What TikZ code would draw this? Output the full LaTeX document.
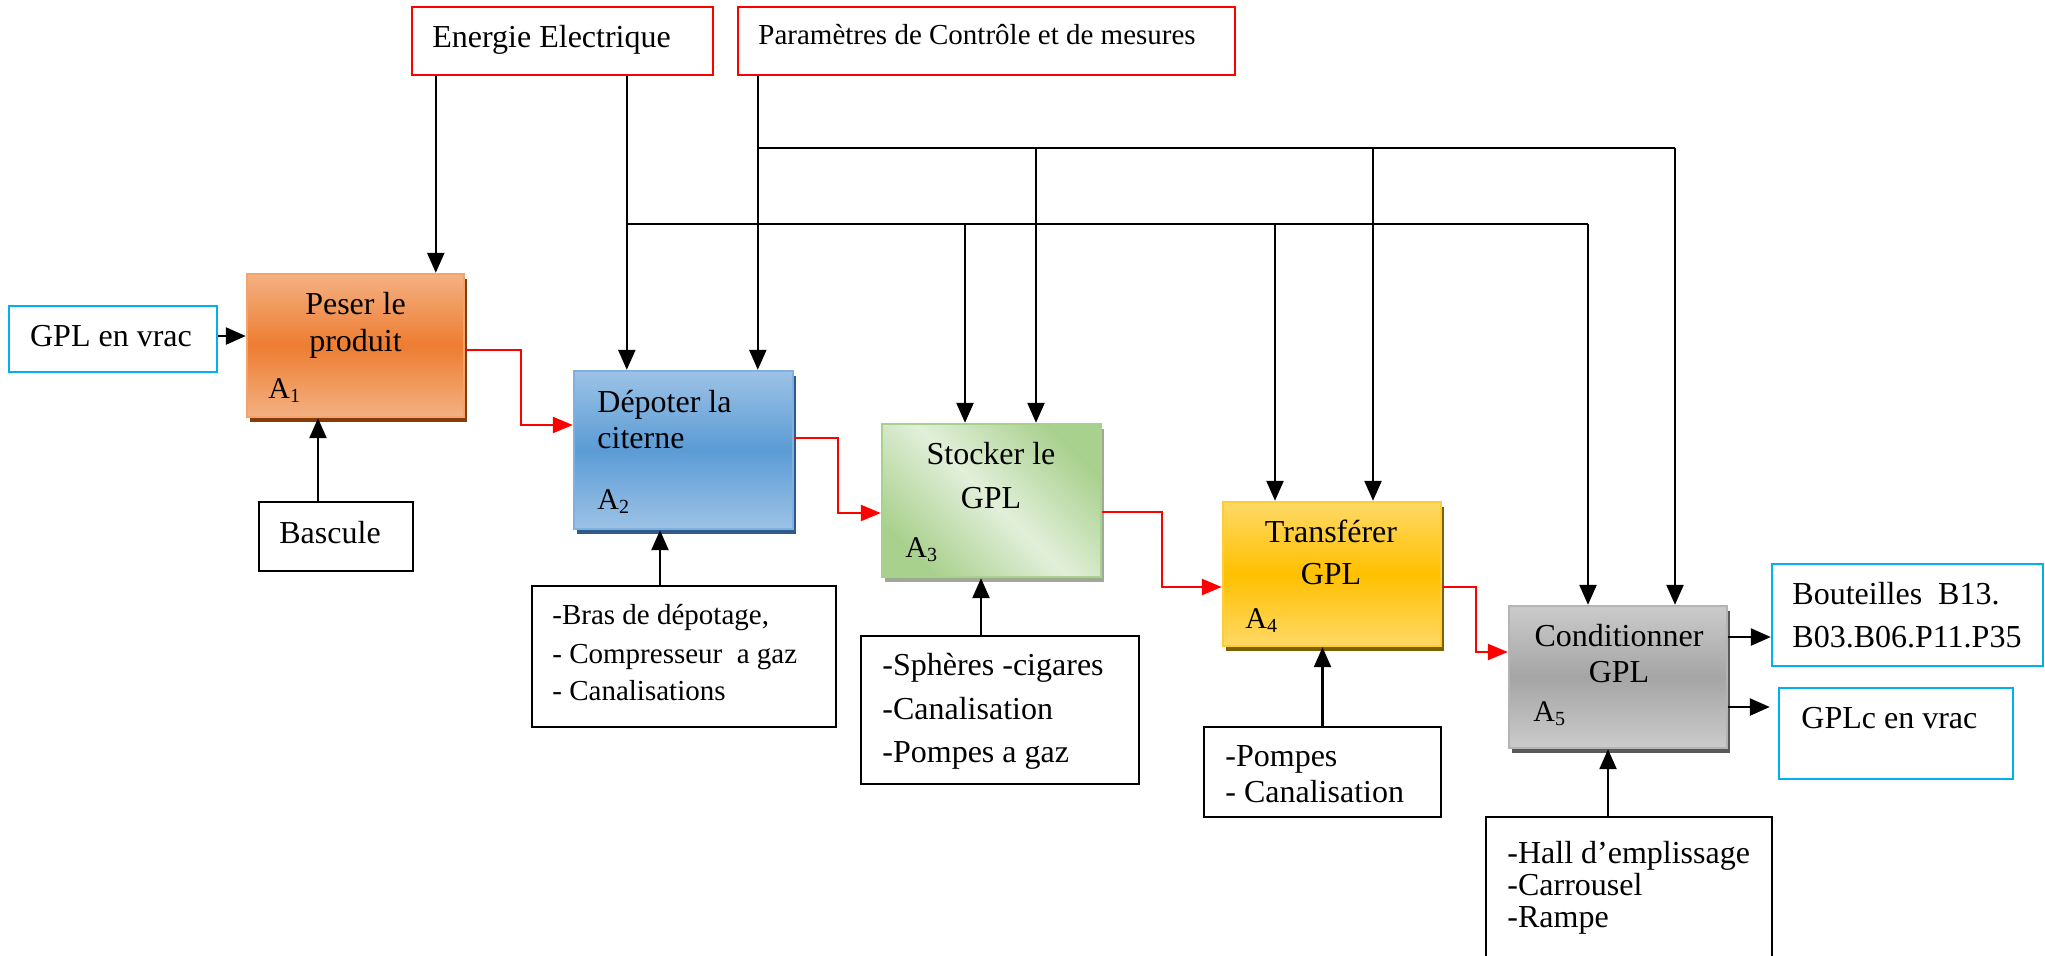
\documentclass[tikz,border=0pt]{standalone}
\usepackage{fontspec}
\setmainfont{Liberation Serif}
\usetikzlibrary{arrows.meta,shadows,calc}
\definecolor{orT}{HTML}{F4B183}
\definecolor{orM}{HTML}{ED7D31}
\definecolor{orL}{HTML}{F4A46A}
\definecolor{orS}{HTML}{843C0C}
\definecolor{blT}{HTML}{9DC3E6}
\definecolor{blM}{HTML}{5B9BD5}
\definecolor{blL}{HTML}{7EB0E0}
\definecolor{blS}{HTML}{2F5B8C}
\definecolor{grD}{HTML}{A9D18E}
\definecolor{grL}{HTML}{E2EFDA}
\definecolor{grS}{HTML}{A0A896}
\definecolor{yeT}{HTML}{FFD966}
\definecolor{yeM}{HTML}{FFC000}
\definecolor{yeL}{HTML}{FFCC33}
\definecolor{yeS}{HTML}{7F6000}
\definecolor{gyT}{HTML}{CBCBCB}
\definecolor{gyM}{HTML}{A5A5A5}
\definecolor{gyL}{HTML}{B4B4B4}
\definecolor{gyS}{HTML}{595959}
\definecolor{cyanB}{HTML}{00B0F0}
\definecolor{redB}{HTML}{FF0000}
\newcommand\idxsub[1]{{\fontsize{10}{10}\selectfont\raisebox{-2pt}{#1}}}
\begin{document}
\begin{tikzpicture}[x=0.5pt,y=-0.5pt,
  txt/.style={inner sep=0pt, font=\fontsize{16}{19}\selectfont},
  stxt/.style={inner sep=0pt, font=\fontsize{14.5}{17}\selectfont},
  lab/.style={inner sep=0pt, font=\fontsize{15}{18}\selectfont, anchor=base west},
  blk/.style={draw=black, line width=1.1pt, inner sep=0pt},
  cyn/.style={draw=cyanB, line width=1.2pt, inner sep=0pt},
  redbox/.style={draw=redB, line width=1.2pt, inner sep=0pt},
  proc/.style={line width=1.2pt, inner sep=0pt},
  shad/.style={drop shadow={shadow xshift=1.5pt, shadow yshift=-2.5pt, fill=#1, opacity=1}},
  arr/.style={line width=1.2pt, -{Triangle[length=10pt,width=8.5pt]}},
  rarr/.style={draw=redB, line width=1.2pt, -{Triangle[length=10pt,width=8pt]}},
  bus/.style={line width=1.2pt},
]
\useasboundingbox (0,0) rectangle (2045,955);

% ---- boxes
\node[cyn, minimum width=104pt, minimum height=33pt] (gplin) at (113,339) {};
\node[proc, draw=orL, shad=orS, top color=orT, bottom color=orT, middle color=orM,
      minimum width=108.5pt, minimum height=71.5pt] (a1) at (355.5,345.5) {};
\node[blk, minimum width=77pt, minimum height=34.5pt] (bascule) at (336,536.5) {};
\node[proc, draw=blL, shad=blS, top color=blT, bottom color=blT, middle color=blM,
      minimum width=109.5pt, minimum height=79pt] (a2) at (683.5,450) {};
\node[blk, minimum width=152pt, minimum height=70.5pt] (bras) at (684,656.5) {};
\node[proc, draw=grD, shad=grS, top color=grD, bottom color=grD, middle color=grL, shading angle=-45,
      minimum width=109.5pt, minimum height=76.5pt] (a3) at (991.5,500.5) {};
\node[blk, minimum width=139pt, minimum height=74pt] (spheres) at (1000,710) {};
\node[proc, draw=yeL, shad=yeS, top color=yeT, bottom color=yeT, middle color=yeM,
      minimum width=109pt, minimum height=72pt] (a4) at (1332,574) {};
\node[blk, minimum width=118.5pt, minimum height=45pt] (pompes) at (1322.5,772) {};
\node[proc, draw=gyL, shad=gyS, top color=gyT, bottom color=gyT, middle color=gyM,
      minimum width=109pt, minimum height=71pt] (a5) at (1618,677) {};
\node[blk, minimum width=143pt, minimum height=91.5pt] (hall) at (1629,908.5) {};
\node[cyn, minimum width=135.5pt, minimum height=51pt] (bout) at (1907.5,615) {};
\node[cyn, minimum width=117pt, minimum height=45.5pt] (gplc) at (1896,733.5) {};
\node[redbox, minimum width=150.5pt, minimum height=34pt] (energie) at (562.5,41) {};
\node[redbox, minimum width=248.5pt, minimum height=34pt] (param) at (986.5,41) {};

% ---- texts
\node[txt, anchor=base] (gplint) at (111,346) {GPL en vrac};
\node[txt, anchor=base] (a1t1) at (355.5,314) {Peser le};
\node[txt, anchor=base] (a1t2) at (355.5,351) {produit};
\node[lab] (a1l) at (268,398) {A\idxsub{1}};
\node[txt, anchor=base west] (bascult) at (279,543) {Bascule};
\node[txt, anchor=base west] (a2t1) at (597,412) {Dépoter la};
\node[txt, anchor=base west] (a2t2) at (597,448) {citerne};
\node[lab] (a2l) at (597,509) {A\idxsub{2}};
\node[txt, anchor=base] (a3t1) at (991,464) {Stocker le};
\node[txt, anchor=base] (a3t2) at (991,508) {GPL};
\node[lab] (a3l) at (905,557) {A\idxsub{3}};
\node[txt, anchor=base] (a4t1) at (1331,542) {Transférer};
\node[txt, anchor=base] (a4t2) at (1331,584) {GPL};
\node[lab] (a4l) at (1245,628) {A\idxsub{4}};
\node[txt, anchor=base] (a5t1) at (1619,646) {Conditionner};
\node[txt, anchor=base] (a5t2) at (1619,682) {GPL};
\node[lab] (a5l) at (1533,721) {A\idxsub{5}};
\node[txt, anchor=base west] (boutt1) at (1792,604) {Bouteilles\ \ B13.};
\node[txt, anchor=base west] (boutt2) at (1792,647) {B03.B06.P11.P35};
\node[txt, anchor=base west] (gplct) at (1801,728) {GPLc en vrac};
\node[txt, anchor=base west] (energiet) at (432,47) {Energie Electrique};
\node[stxt, anchor=base west] (paramt) at (758,44) {Paramètres de Contrôle et de mesures};
\node[stxt, anchor=base west] (brast1) at (552,624) {-Bras de dépotage,};
\node[stxt, anchor=base west] (brast2) at (552,663) {- Compresseur\ \ a gaz};
\node[stxt, anchor=base west] (brast3) at (552,700) {- Canalisations};
\node[txt, anchor=base west] (spht1) at (882,675) {-Sphères -cigares};
\node[txt, anchor=base west] (spht2) at (882,719) {-Canalisation};
\node[txt, anchor=base west] (spht3) at (882,762) {-Pompes a gaz};
\node[txt, anchor=base west] (pompt1) at (1225,766) {-Pompes};
\node[txt, anchor=base west] (pompt2) at (1225,802) {- Canalisation};
\node[txt, anchor=base west] (hallt1) at (1507,863) {-Hall d’emplissage};
\node[txt, anchor=base west] (hallt2) at (1507,895) {-Carrousel};
\node[txt, anchor=base west] (hallt3) at (1507,927) {-Rampe};

% ---- inputs / mechanisms
\draw[arr] ([yshift=1.5pt]gplin.east) -- ([yshift=1.5pt]gplin.east -| a1.west);
\draw[arr] ([xshift=-9pt]bascule.north) -- ([xshift=-9pt]bascule.north |- a1.south);
\draw[arr] ([xshift=-12pt]bras.north) -- ([xshift=-12pt]bras.north |- a2.south);
\draw[arr] ([xshift=-9.5pt]spheres.north) -- ([xshift=-9.5pt]spheres.north |- a3.south);
\draw[arr] (pompes.north) -- (pompes.north |- a4.south);
\draw[arr] ([xshift=-10.5pt]hall.north) -- ([xshift=-10.5pt]hall.north |- a5.south);

% ---- red flow
\draw[rarr] ([yshift=-2.25pt]a1.east) -- ++(56,0) |- ([yshift=12.5pt]a2.west);
\draw[rarr] ([yshift=6pt]a2.east) -- ++(44,0) |- ([yshift=-6.25pt]a3.west);
\draw[rarr] ([yshift=-5.75pt]a3.east) -- ++(60,0) |- ([yshift=-6.5pt]a4.west);
\draw[rarr] ([yshift=-6.5pt]a4.east) -- ++(34,0) |- ([yshift=12.5pt]a5.west);

% ---- outputs
\coordinate (gplcin) at ($(gplc.west)+(-8,0)$);
\draw[arr] ([yshift=20pt]a5.east) -- ([yshift=20pt]a5.east -| bout.west);
\draw[arr] ([yshift=-15pt]a5.east) -- ([yshift=-15pt]a5.east -| gplcin);

% ---- energy
\draw[arr] ([xshift=12.5pt]energie.south west) -- ([xshift=12.5pt]energie.south west |- a1.north);
\coordinate (eb) at ($(energie.south west)+(216,0)$);
\draw[arr] (eb) -- (eb |- a2.north);
\coordinate (ebR) at (1588,224);
\coordinate (e3) at (965,224);
\coordinate (e4) at (1275,224);
\draw[bus] (eb |- ebR) -- (ebR);
\draw[arr] (e3) -- (e3 |- a3.north);
\draw[arr] (e4) -- (e4 |- a4.north);
\draw[arr] (ebR) -- (ebR |- a5.north);

% ---- control parameters
\coordinate (pb) at ($(param.south west)+(21,0)$);
\draw[arr] (pb) -- (pb |- a2.north);
\coordinate (pbR) at (1675,148);
\coordinate (p3) at (1036,148);
\coordinate (p4) at (1373,148);
\draw[bus] (pb |- pbR) -- (pbR);
\draw[arr] (p3) -- (p3 |- a3.north);
\draw[arr] (p4) -- (p4 |- a4.north);
\draw[arr] (pbR) -- (pbR |- a5.north);
\end{tikzpicture}
\end{document}
